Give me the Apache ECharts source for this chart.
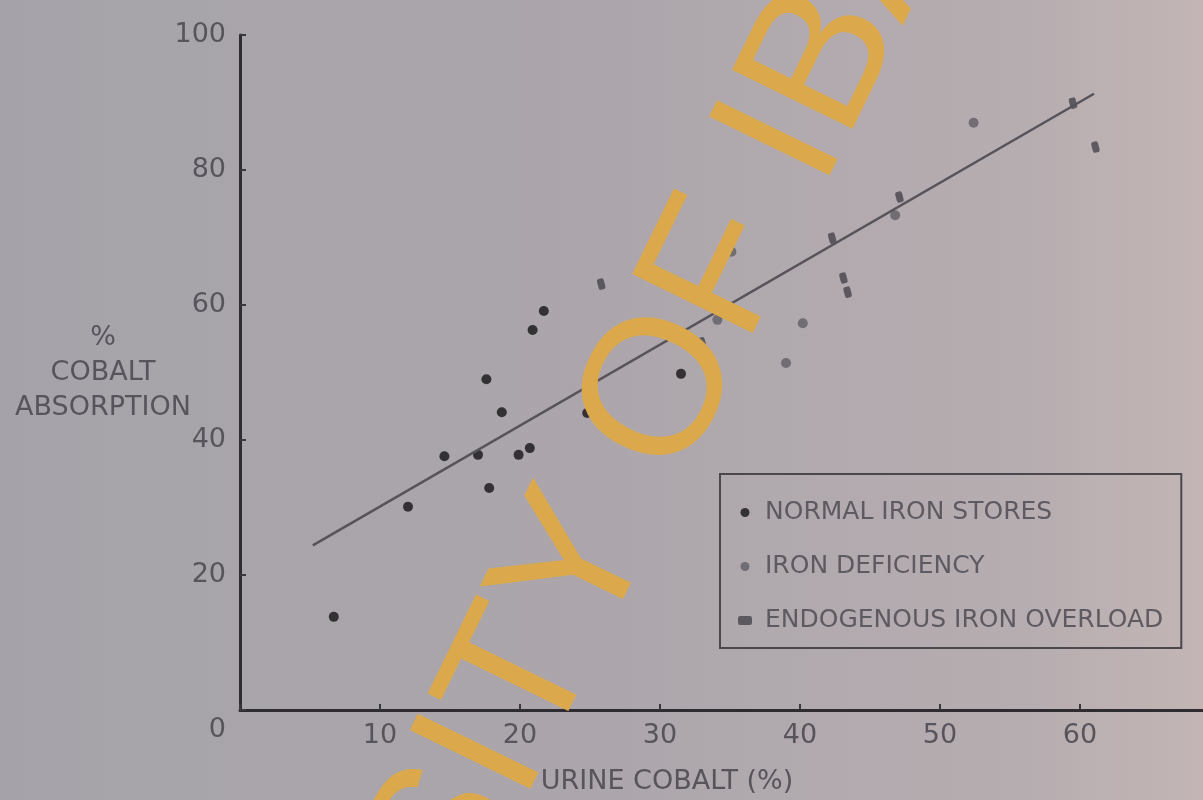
<!DOCTYPE html>
<html>
<head>
<meta charset="utf-8">
<title>Cobalt absorption vs urine cobalt</title>
<script src="https://cdn.jsdelivr.net/npm/echarts@6/dist/echarts.min.js"></script>
<style>
    html, body { margin: 0; padding: 0; background: #aaa5ab; }
    #chart { width: 1203px; height: 800px; }
</style>
</head>
<body>
<div id="chart"></div>
<script>
// [urine cobalt %, cobalt absorption %]
var normalStores = [[6.7, 13.8], [12.0, 30.1], [14.6, 37.6], [17.0, 37.8], [17.8, 32.9], [19.9, 37.8],
    [20.7, 38.8], [18.7, 44.1], [24.8, 44.0], [17.6, 49.0], [20.9, 56.3], [21.7, 59.1], [31.5, 49.8]];
var ironDeficiency = [[34.1, 57.8], [35.1, 67.9], [39.0, 51.4], [40.2, 57.3], [52.4, 87.0], [46.8, 73.3]];
var ironOverload = [[25.8, 63.1], [33.0, 54.4], [42.3, 69.9], [43.1, 64.0], [43.4, 61.9], [47.1, 76.0],
    [59.5, 89.9], [61.1, 83.4]];
var fitLine = [[5.2, 24.4], [61.0, 91.3]];
var legendNames = ['NORMAL IRON STORES', 'IRON DEFICIENCY', 'ENDOGENOUS IRON OVERLOAD'];

var inkColor = '#58545c';
var fontName = 'DejaVu Sans';

var option = {
    backgroundColor: {
        type: 'linear', x: 0, y: 0, x2: 1, y2: 0,
        colorStops: [
            {offset: 0, color: '#a5a3a9'},
            {offset: 0.5, color: '#aca6ac'},
            {offset: 0.85, color: '#b6adb0'},
            {offset: 1, color: '#c3b5b5'}
        ]
    },
    animation: false,
    grid: {left: 240, right: -17, top: 35, bottom: 90, outerBoundsMode: 'none', containLabel: false},
    legend: {
        data: legendNames,
        orient: 'vertical',
        left: 720,
        top: 474,
        padding: [26, 18, 15, 18],
        itemGap: 29,
        itemWidth: 14,
        itemHeight: 9,
        borderColor: '#4a474d',
        borderWidth: 2,
        textStyle: {fontFamily: fontName, fontSize: 25, color: '#5e5a62', padding: [0, 0, 0, 8]}
    },
    xAxis: {
        type: 'value',
        min: 0,
        max: 70,
        interval: 10,
        splitLine: {show: false},
        axisLine: {onZero: false, lineStyle: {color: '#2e2c30', width: 3}},
        axisTick: {inside: true, length: 6, lineStyle: {color: '#3a383c', width: 2}},
        axisLabel: {
            margin: 12,
            fontFamily: fontName,
            fontSize: 27,
            color: inkColor,
            formatter: function(v) { return (v === 0 || v === 70) ? '' : v; }
        },
        name: 'URINE COBALT (%)',
        nameLocation: 'middle',
        nameGap: 58,
        nameMoveOverlap: false,
        nameTextStyle: {fontFamily: fontName, fontSize: 27, color: inkColor, padding: [0, 126, 0, 0]}
    },
    yAxis: {
        type: 'value',
        min: 0,
        max: 100,
        interval: 20,
        splitLine: {show: false},
        axisLine: {onZero: false, lineStyle: {color: '#2e2c30', width: 3}},
        axisTick: {inside: true, length: 6, lineStyle: {color: '#3a383c', width: 2}},
        axisLabel: {
            margin: 14,
            fontFamily: fontName,
            fontSize: 27,
            color: inkColor,
            formatter: function(v) { return v === 0 ? '{o|0}' : v; },
            rich: {o: {fontFamily: fontName, fontSize: 27, color: inkColor, padding: [40, 0, 0, 0]}}
        },
        name: '%\nCOBALT\nABSORPTION',
        nameLocation: 'middle',
        nameRotate: 0,
        nameGap: 137,
        nameMoveOverlap: false,
        nameTextStyle: {
            fontFamily: fontName, fontSize: 27, color: inkColor, lineHeight: 35,
            align: 'center', verticalAlign: 'middle', padding: [0, 0, 72, 0]
        }
    },
    series: [
        {
            name: 'fit',
            type: 'line',
            data: fitLine,
            symbol: 'none',
            silent: true,
            lineStyle: {color: '#57535a', width: 2.5}
        },
        {
            name: legendNames[0],
            type: 'scatter',
            data: normalStores,
            symbol: 'circle',
            symbolSize: 10,
            symbolKeepAspect: true,
            itemStyle: {color: '#161418'}
        },
        {
            name: legendNames[1],
            type: 'scatter',
            data: ironDeficiency,
            symbol: 'circle',
            symbolSize: 10,
            symbolKeepAspect: true,
            itemStyle: {color: '#625e66'}
        },
        {
            name: legendNames[2],
            type: 'scatter',
            data: ironOverload,
            symbol: 'roundRect',
            symbolSize: [7, 11],
            symbolRotate: 15,
            symbolKeepAspect: true,
            itemStyle: {color: '#47434b'}
        }
    ],
    graphic: [
        {
            // library stamp across the scan
            type: 'text',
            x: 593,
            y: 538,
            rotation: 64 * Math.PI / 180,
            z: 100,
            silent: true,
            style: {
                text: 'UNIVERSITY OF IBADAN',
                fontFamily: 'Liberation Sans',
                fontSize: 195,
                fill: '#dba94b',
                align: 'center',
                verticalAlign: 'middle'
            }
        }
    ]
};

var myChart = echarts.init(document.getElementById('chart'));
myChart.setOption(option);
</script>
</body>
</html>
